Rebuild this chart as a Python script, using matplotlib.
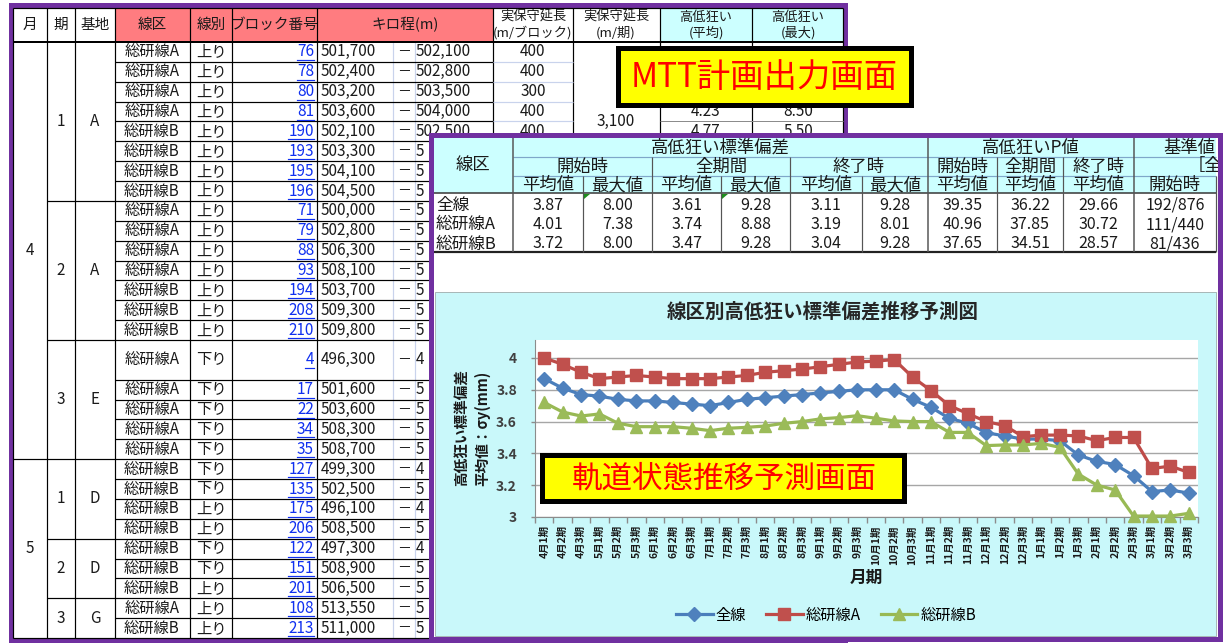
import matplotlib.pyplot as plt
from matplotlib.patches import Rectangle, Polygon
import numpy as np

plt.rcParams['font.family'] = ['Noto Sans CJK JP', 'DejaVu Sans']

# ---- MTT計画出力 (保守計画の一覧表) ----
month_groups = [('4', 20), ('5', 9)]
period_groups = [('1', 'A', 8), ('2', 'A', 7), ('3', 'E', 5), ('1', 'D', 4), ('2', 'D', 3), ('3', 'G', 2)]
rosen = ['総研線A'] * 4 + ['総研線B'] * 4 + ['総研線A'] * 4 + ['総研線B'] * 3 + ['総研線A'] * 5 \
    + ['総研線B'] * 7 + ['総研線A', '総研線B']
betsu = ['上り'] * 15 + ['下り'] * 5 + ['下り', '下り', '上り', '上り', '下り', '下り', '上り', '上り', '上り']
block_no = ['76', '78', '80', '81', '190', '193', '195', '196', '71', '79', '88', '93', '194', '208', '210',
            '4', '17', '22', '34', '35', '127', '135', '175', '206', '122', '151', '201', '108', '213']
km_start = ['501,700', '502,400', '503,200', '503,600', '502,100', '503,300', '504,100', '504,500',
            '500,000', '502,800', '506,300', '508,100', '503,700', '509,300', '509,800',
            '496,300', '501,600', '503,600', '508,300', '508,700',
            '499,300', '502,500', '496,100', '508,500', '497,300', '508,900', '506,500', '513,550', '511,000']
# 終点キロ程 (6行目以降は先頭桁のみ)
km_end = ['502,100', '502,800', '503,500', '504,000', '502,500', '5', '5', '5',
          '5', '5', '5', '5', '5', '5', '5',
          '4', '5', '5', '5', '5',
          '4', '5', '4', '5', '4', '5', '5', '5', '5']
jitsu_block = ['400', '400', '300', '400', '400']
jitsu_period = '3,100'
koutei_avg = ['', '', '', '4.23', '4.77']
koutei_max = ['', '', '', '8.50', '5.50']
row_units = [1] * 15 + [2] + [1] * 13

# ---- 線区別の集計表 ----
front_rows = ['全線', '総研線A', '総研線B']
sd_start_avg = ['3.87', '4.01', '3.72']
sd_start_max = ['8.00', '7.38', '8.00']
sd_all_avg = ['3.61', '3.74', '3.47']
sd_all_max = ['9.28', '8.88', '9.28']
sd_end_avg = ['3.11', '3.19', '3.04']
sd_end_max = ['9.28', '8.01', '9.28']
p_start = ['39.35', '40.96', '37.65']
p_all = ['36.22', '37.85', '34.51']
p_end = ['29.66', '30.72', '28.57']
kijun_start = ['192/876', '111/440', '81/436']

# ---- 推移予測 ----
months = [4, 5, 6, 7, 8, 9, 10, 11, 12, 1, 2, 3]
periods = [f'{m}月{k}期' for m in months for k in (1, 2, 3)]
zensen = [3.87, 3.81, 3.77, 3.76, 3.74, 3.73, 3.73, 3.72, 3.71, 3.70, 3.72, 3.74,
          3.75, 3.76, 3.77, 3.78, 3.79, 3.80, 3.80, 3.80, 3.74, 3.69, 3.62, 3.59,
          3.53, 3.51, 3.49, 3.49, 3.48, 3.39, 3.35, 3.33, 3.26, 3.16, 3.17, 3.15]
soken_a = [4.00, 3.96, 3.91, 3.87, 3.88, 3.89, 3.88, 3.87, 3.87, 3.87, 3.88, 3.89,
           3.91, 3.92, 3.93, 3.945, 3.96, 3.975, 3.98, 3.99, 3.88, 3.795, 3.70, 3.65,
           3.60, 3.575, 3.505, 3.515, 3.515, 3.51, 3.48, 3.50, 3.50, 3.305, 3.32, 3.28]
soken_b = [3.72, 3.66, 3.635, 3.648, 3.59, 3.568, 3.568, 3.568, 3.558, 3.543, 3.558, 3.564,
           3.572, 3.589, 3.60, 3.617, 3.625, 3.637, 3.621, 3.604, 3.60, 3.60, 3.532, 3.532,
           3.449, 3.453, 3.453, 3.463, 3.438, 3.27, 3.201, 3.17, 3.006, 3.006, 3.006, 3.023]

PURPLE = '#7030A0'
SALMON = '#FF7C80'
CYAN = '#CCFFFF'
LINK = '#1030F0'
INK = '#1a1a1a'


def lw(p):  # ピクセル → ポイント
    return p * 0.72


fig = plt.figure(figsize=(12.27, 6.43), dpi=100)
ax = fig.add_axes([0, 0, 1, 1])
ax.set_xlim(0, 1227)
ax.set_ylim(643, 0)
ax.axis('off')

# ===== 奥の表 =====
ax.add_patch(Rectangle((10.5, 4.5), 834.5, 636, fc='white', ec=PURPLE, lw=lw(5), zorder=1))
cx = [13, 47, 75, 115, 190, 232, 317, 493, 573, 660, 752, 843]
top_h, bot_h = 8, 42
ax.add_patch(Rectangle((115, top_h), 493 - 115, bot_h - top_h, fc=SALMON, ec='none', zorder=1.5))
ax.add_patch(Rectangle((660, top_h), 843 - 660, bot_h - top_h, fc=CYAN, ec='none', zorder=1.5))

hdr = [(30, '月'), (61, '期'), (95, '基地'), (152, '線区'), (211, '線別'), (274, 'ブロック番号'), (405, 'キロ程(m)')]
for x, s in hdr:
    ax.text(x, 25, s, ha='center', va='center', fontsize=10.5, color=INK, zorder=3)
for x, s1, s2 in [(533, '実保守延長', '(m/ブロック)'), (616, '実保守延長', '(m/期)'),
                  (706, '高低狂い', '(平均)'), (798, '高低狂い', '(最大)')]:
    ax.text(x, 17, s1, ha='center', va='center', fontsize=9.5, color=INK, zorder=3)
    ax.text(x, 33, s2, ha='center', va='center', fontsize=9.5, color=INK, zorder=3)

row_h = (638 - bot_h) / sum(row_units)
tops = bot_h + row_h * np.concatenate([[0], np.cumsum(row_units)])
yc = (tops[:-1] + tops[1:]) / 2

# 縦罫線
for x in cx:
    ax.vlines(x, top_h, 638, color='#000000', lw=lw(1.2), zorder=2)
for x in (393, 415):
    ax.vlines(x, bot_h, 638, color='#C9D3EC', lw=lw(1.2), zorder=2)
ax.hlines(top_h, 13, 843, color='#000000', lw=lw(1.2), zorder=2)
ax.hlines(bot_h, 13, 843, color='#000000', lw=lw(2), zorder=2)
ax.hlines(638, 13, 843, color='#000000', lw=lw(1.2), zorder=2)

# 横罫線
month_edges = np.cumsum([n for _, n in month_groups])[:-1]
period_edges = np.cumsum([n for _, _, n in period_groups])[:-1]
for r in range(1, len(rosen)):
    y = tops[r]
    ax.hlines(y, 115, 493, color='#000000', lw=lw(1.2), zorder=2)
    ax.hlines(y, 493, 573, color='#C9D3EC', lw=lw(1.2), zorder=2)
    ax.hlines(y, 660, 843, color='#8C8C8C', lw=lw(1), zorder=2)
    if r in period_edges:
        ax.hlines(y, 47, 115, color='#000000', lw=lw(1.2), zorder=2)
        ax.hlines(y, 573, 660, color='#000000', lw=lw(1.2), zorder=2)
    if r in month_edges:
        ax.hlines(y, 13, 47, color='#000000', lw=lw(1.2), zorder=2)

# 月・期・基地 (結合セル)
start = 0
for m, n in month_groups:
    ax.text(30, (tops[start] + tops[start + n]) / 2, m, ha='center', va='center', fontsize=11, color=INK, zorder=3)
    start += n
start = 0
for k, base, n in period_groups:
    yy = (tops[start] + tops[start + n]) / 2
    ax.text(61, yy, k, ha='center', va='center', fontsize=11, color=INK, zorder=3)
    ax.text(95, yy, base, ha='center', va='center', fontsize=11, color=INK, zorder=3)
    start += n
ax.text(616, (tops[0] + tops[8]) / 2, jitsu_period, ha='center', va='center', fontsize=11, color=INK, zorder=3)

for i in range(len(rosen)):
    y = yc[i]
    ax.text(152, y, rosen[i], ha='center', va='center', fontsize=11, color=INK, zorder=3)
    ax.text(211, y, betsu[i], ha='center', va='center', fontsize=11, color=INK, zorder=3)
    ax.text(314, y, block_no[i], ha='right', va='center', fontsize=11, color=LINK, zorder=3)
    ax.plot([314 - 8.6 * len(block_no[i]), 314], [y + 8, y + 8], color=LINK, lw=lw(1.2), zorder=3)
    ax.text(321, y, km_start[i], ha='left', va='center', fontsize=11, color=INK, zorder=3)
    ax.text(404, y, '－', ha='center', va='center', fontsize=10, color=INK, zorder=3)
    ax.text(416, y, km_end[i], ha='left', va='center', fontsize=11, color=INK, zorder=3)
for i, s in enumerate(jitsu_block):
    ax.text(533, yc[i], s, ha='center', va='center', fontsize=11, color=INK, zorder=3)
for i, (a, b) in enumerate(zip(koutei_avg, koutei_max)):
    ax.text(706, yc[i], a, ha='center', va='center', fontsize=11, color=INK, zorder=3)
    ax.text(798, yc[i], b, ha='center', va='center', fontsize=11, color=INK, zorder=3)

# ===== 手前の画面 =====
ax.add_patch(Rectangle((430.5, 134.5), 789, 504, fc='white', ec='none', zorder=10))
fx = [434, 513, 583, 652, 721, 790, 862, 928, 997, 1063, 1134, 1216]
ax.add_patch(Rectangle((434, 137), 1216 - 434, 193 - 137, fc=CYAN, ec='none', zorder=10.5))
fs_h = 12.5
ax.text(473, 165, '線区', ha='center', va='center', fontsize=fs_h, color=INK, zorder=12)
ax.text(720, 147.5, '高低狂い標準偏差', ha='center', va='center', fontsize=fs_h, color=INK, zorder=12)
ax.text(1031, 147.5, '高低狂いP値', ha='center', va='center', fontsize=fs_h, color=INK, zorder=12)
ax.text(1163, 147.5, '基準値', ha='left', va='center', fontsize=fs_h, color=INK, zorder=12)
for (x0, x1), s in zip([(513, 652), (652, 790), (790, 928), (928, 997), (997, 1063), (1063, 1134)],
                       ['開始時', '全期間', '終了時', '開始時', '全期間', '終了時']):
    ax.text((x0 + x1) / 2, 166.5, s, ha='center', va='center', fontsize=fs_h, color=INK, zorder=12)
ax.text(1188, 166.5, '［全', ha='left', va='center', fontsize=fs_h, color=INK, zorder=12)
sub = ['平均値', '最大値'] * 3 + ['平均値'] * 3 + ['開始時']
for j, s in enumerate(sub):
    ax.text((fx[j + 1] + fx[j + 2]) / 2, 185, s, ha='center', va='center', fontsize=fs_h, color=INK, zorder=12)

cols = [sd_start_avg, sd_start_max, sd_all_avg, sd_all_max, sd_end_avg, sd_end_max, p_start, p_all, p_end, kijun_start]
row_y = [203, 222.5, 242]
for r, name in enumerate(front_rows):
    ax.text(436, row_y[r], name, ha='left', va='center_baseline', fontsize=12, color=INK, zorder=12)
    for j, col in enumerate(cols):
        ax.text((fx[j + 1] + fx[j + 2]) / 2, row_y[r], col[r], ha='center', va='center_baseline',
                fontsize=11.5, color=INK, zorder=12)

ax.hlines([157, 176], 513, 1216, color='#7FA7C9', lw=lw(1.2), zorder=11)
ax.hlines(193, 434, 1216, color='#333333', lw=lw(1.5), zorder=11)
ax.hlines(252, 434, 1216, color='#222222', lw=lw(2.2), zorder=11)
ax.vlines([513, 928, 1134], 137, 252, color='#555555', lw=lw(1.5), zorder=11)
ax.vlines([652, 790, 997, 1063], 157, 252, color='#555555', lw=lw(1.2), zorder=11)
ax.vlines([583, 721, 862, 1216], 176, 252, color='#555555', lw=lw(1.2), zorder=11)
for x in (583, 721):
    ax.add_patch(Polygon([(x + 1, 194), (x + 7, 194), (x + 1, 199)], closed=True, fc='#1E8C1E', ec='none', zorder=12))

# グラフ領域
ax.add_patch(Rectangle((435, 292), 1216 - 435, 636 - 292, fc='#C9F8FA', ec='#A8B8B8', lw=lw(1), zorder=10.5))
ax.text(823, 312, '線区別高低狂い標準偏差推移予測図', ha='center', va='center', fontsize=14,
        fontweight='bold', color='#262626', zorder=12)
ax.text(462, 428, '高低狂い標準偏差', rotation=90, ha='center', va='center',
        fontsize=10.5, fontweight='bold', color=INK, zorder=12)
ax.text(482, 428, '平均値：σy(mm)', rotation=90, ha='center', va='center',
        fontsize=10.5, fontweight='bold', color=INK, zorder=12)
ax.text(866, 578, '月期', ha='center', va='center', fontsize=12, fontweight='bold', color=INK, zorder=12)

# 枠線 (最前面)
ax.add_patch(Rectangle((430.5, 134.5), 789, 504, fc='none', ec=PURPLE, lw=lw(5), zorder=14))
ax.add_patch(Rectangle((1222, 0), 10, 643, fc='white', ec='none', zorder=13))

# ===== 推移予測図 =====
ac = fig.add_axes([535 / 1227, (643 - 517) / 643, 663 / 1227, 177 / 643], zorder=2)
ac.set_facecolor('white')
xs = np.arange(len(periods))
series = [(zensen, '全線', '#4A7EBB', '#4F81BD', 'D', 7),
          (soken_a, '総研線A', '#BE4B48', '#C0504D', 's', 8),
          (soken_b, '総研線B', '#98B954', '#9BBB59', '^', 8.5)]
for vals, name, lc, mc, mk, ms in series:
    ac.plot(xs, vals, color=lc, lw=2.3, marker=mk, ms=ms, mfc=mc, mec=mc, label=name, clip_on=False, zorder=3)
ac.set_xlim(-0.5, len(periods) - 0.5)
ac.set_ylim(3, 4.113)
ac.set_yticks([3, 3.2, 3.4, 3.6, 3.8, 4])
ac.set_yticklabels(['3', '3.2', '3.4', '3.6', '3.8', '4'])
ac.yaxis.grid(True, color='#A6A6A6', lw=1)
ac.set_axisbelow(True)
for s in ('top', 'right'):
    ac.spines[s].set_visible(False)
for s in ('left', 'bottom'):
    ac.spines[s].set_color('#8C8C8C')
ac.tick_params(axis='y', length=3, width=1, color='#8C8C8C', pad=10, labelsize=10, labelcolor='#404040')
for t in ac.get_yticklabels():
    t.set_fontweight('bold')
ac.set_xticks(xs)
ac.set_xticklabels(periods, rotation=90, fontsize=7.5, fontweight='bold', color=INK)
ac.set_xticks(np.arange(-0.5, len(periods)), minor=True)
ac.tick_params(axis='x', which='major', length=0, pad=6)
ac.tick_params(axis='x', which='minor', length=4, width=1, color='#8C8C8C')
ac.legend(loc='center', bbox_to_anchor=(826 / 1227, 1 - 615 / 643), bbox_transform=fig.transFigure,
          ncol=3, frameon=False, fontsize=11, handlelength=2.4, handletextpad=0.2, columnspacing=1.3)

# ===== 画面名の札 =====
ov = fig.add_axes([0, 0, 1, 1], zorder=3)
ov.set_xlim(0, 1227)
ov.set_ylim(643, 0)
ov.axis('off')
ov.patch.set_alpha(0)
ov.add_patch(Rectangle((617.5, 47.5), 293, 57, fc='#FFFF00', ec='black', lw=lw(5)))
ov.text(764, 77, 'MTT計画出力画面', ha='center', va='center', fontsize=24, color='#FF0000')
ov.add_patch(Rectangle((542, 454.5), 362, 46, fc='#FFFF00', ec='black', lw=lw(5)))
ov.text(724, 479, '軌道状態推移予測画面', ha='center', va='center', fontsize=22, color='#FF0000')

fig.savefig('out.png', dpi=100)
